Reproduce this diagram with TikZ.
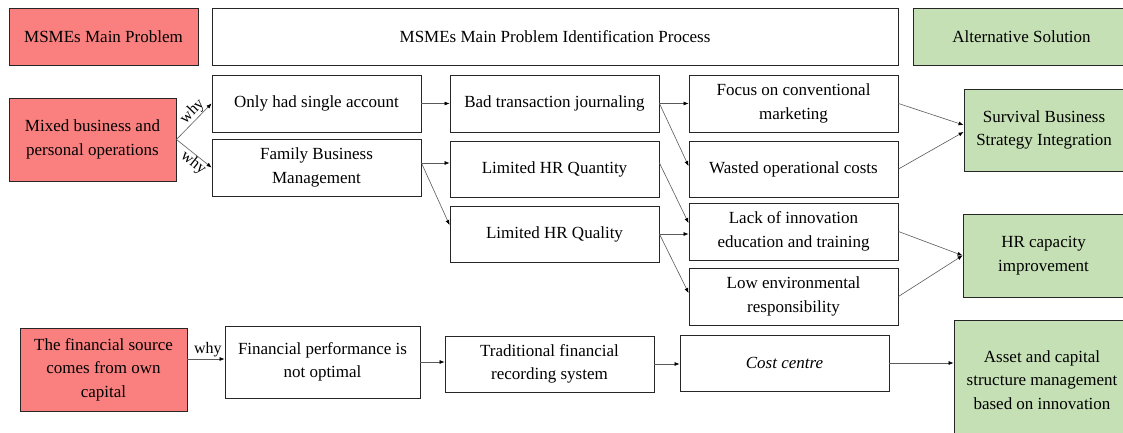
\documentclass[tikz,border=0pt]{standalone}
\usepackage{fontspec}
\setmainfont{Liberation Serif}
\usetikzlibrary{arrows.meta,calc}

\definecolor{probred}{HTML}{FA7F7F}
\definecolor{solgreen}{HTML}{C5E0B4}
\definecolor{linkgray}{HTML}{5A5A5A}

\tikzset{
  box/.style={draw=black!85, line width=0.9pt, rectangle, align=center,
    inner sep=2pt, font=\fontsize{17pt}{23.5pt}\selectfont},
  problem/.style={box, fill=probred},
  solution/.style={box, fill=solgreen},
  plain/.style={box, fill=white},
  link/.style={draw=linkgray, line width=0.6pt,
    -{Latex[length=5pt,width=4pt,color=black]}},
  whylabel/.style={font=\fontsize{16pt}{18pt}\selectfont, inner sep=0.5pt}
}

\begin{document}
\begin{tikzpicture}[x=1pt,y=-1pt]
  % canvas
  \fill[white] (0,0) rectangle (1123,433);
  \useasboundingbox (0,0) rectangle (1123,433);
  \begin{scope}
  \clip (0,0) rectangle (1123,433);

  % header row
  \node[problem, minimum width=189pt, minimum height=57pt] (mainprob) at (103.5,36.5) {MSMEs Main Problem};
  \node[plain, minimum width=686pt, minimum height=57pt] (idproc) at (555,36.5) {MSMEs Main Problem Identification Process};
  \node[solution, minimum width=217pt, minimum height=57pt] (altsol) at (1021.5,36.5) {Alternative Solution};

  % first problem branch
  \node[problem, minimum width=167pt, minimum height=83pt] (mixed) at (92.5,139.5) {Mixed business and\\personal operations};
  \node[plain, minimum width=209pt, minimum height=57pt] (single) at (316.5,103.5) {Only had single account};
  \node[plain, minimum width=209pt, minimum height=57pt] (family) at (316.5,167.5) {Family Business\\Management};
  \node[plain, minimum width=209pt, minimum height=57pt] (journal) at (554.5,103.5) {Bad transaction journaling};
  \node[plain, minimum width=209pt, minimum height=56pt] (hrqty) at (554.5,169) {Limited HR Quantity};
  \node[plain, minimum width=209pt, minimum height=56pt] (hrqlt) at (554.5,234) {Limited HR Quality};
  \node[plain, minimum width=209pt, minimum height=57pt] (focus) at (793.5,103.5) {Focus on conventional\\marketing};
  \node[plain, minimum width=209pt, minimum height=56pt] (wasted) at (793.5,169) {Wasted operational costs};
  \node[plain, minimum width=209pt, minimum height=57pt] (lack) at (793.5,231.5) {Lack of innovation\\education and training};
  \node[plain, minimum width=209pt, minimum height=57pt] (lowenv) at (793.5,296.5) {Low environmental\\responsibility};
  \node[solution, minimum width=160pt, minimum height=82pt] (survival) at (1044,130) {Survival Business\\Strategy Integration};
  \node[solution, minimum width=161pt, minimum height=83pt] (hrcap) at (1043.5,255.5) {HR capacity\\improvement};

  % second problem branch
  \node[problem, minimum width=167pt, minimum height=83pt] (finsrc) at (103.5,369.5) {The financial source\\comes from own\\capital};
  \node[plain, minimum width=195pt, minimum height=72pt] (finperf) at (322.5,362) {Financial performance is\\not optimal};
  \node[plain, minimum width=209pt, minimum height=56pt] (tradrec) at (549.5,364) {Traditional financial\\recording system};
  \node[plain, minimum width=209pt, minimum height=56pt] (costc) at (784.5,363) {\itshape Cost centre};
  \node[solution, minimum width=176pt, minimum height=120pt] (asset) at (1042,380) {Asset and capital\\structure management\\based on innovation};

  % connectors of the first branch
  \draw[link] (mixed.east) -- node[whylabel, above, sloped, pos=0.62] {why} (single.west);
  \draw[link] (mixed.east) -- node[whylabel, below, sloped, pos=0.62] {why} (family.west);
  \draw[link] (single.east) -- (single.east -| journal.west);
  \coordinate (famout) at ([yshift=4.5pt]family.east);
  \draw[link] (famout) -- (famout -| hrqty.west);
  \draw[link] (famout) -- ([yshift=9pt]hrqlt.west);
  \draw[link] (journal.east) -- (journal.east -| focus.west);
  \draw[link] (journal.east) -- ([yshift=3pt]wasted.west);
  \draw[link] ([yshift=6pt]hrqty.east) -- ([yshift=8.5pt]lack.west);
  \draw[link] (hrqlt.east) -- (hrqlt.east -| lack.west);
  \draw[link] (hrqlt.east) -- ([yshift=3.5pt]lowenv.west);
  \draw[link] (focus.east) -- ([yshift=5pt]survival.west);
  \draw[link] (wasted.east) -- ([yshift=-2pt]survival.west);
  \draw[link] (lack.east) -- (hrcap.west);
  \draw[link] (lowenv.east) -- (hrcap.west);

  % connectors of the second branch
  \coordinate (finout) at ([yshift=10.5pt]finsrc.east);
  \draw[link] (finout) -- node[whylabel, above, pos=0.55, inner sep=1.5pt] {why} (finout -| finperf.west);
  \draw[link] (finperf.east) -- (finperf.east -| tradrec.west);
  \draw[link] (tradrec.east) -- (tradrec.east -| costc.west);
  \draw[link] (costc.east) -- (costc.east -| asset.west);
  \end{scope}
\end{tikzpicture}
\end{document}
